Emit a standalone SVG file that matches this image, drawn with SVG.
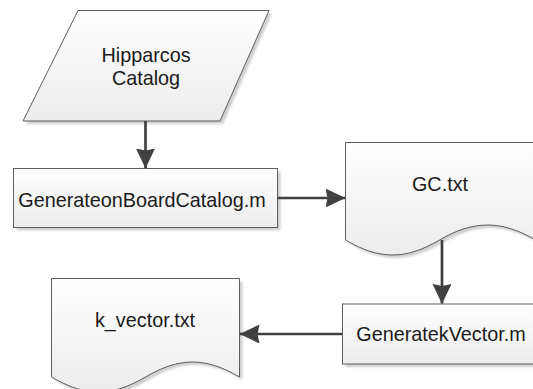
<svg xmlns="http://www.w3.org/2000/svg" width="533" height="389" viewBox="0 0 533 389">
  <defs>
    <linearGradient id="fillGrad" x1="0" y1="0" x2="0" y2="1">
      <stop offset="0" stop-color="#ffffff"/>
      <stop offset="1" stop-color="#ececec"/>
    </linearGradient>
    <filter id="soft" x="-10%" y="-10%" width="130%" height="130%">
      <feGaussianBlur stdDeviation="1"/>
    </filter>
    <marker id="arrow" viewBox="0 0 20 20" refX="19.5" refY="10" markerWidth="20" markerHeight="20" markerUnits="userSpaceOnUse" orient="auto">
      <path d="M0,0.5 L20,10 L0,19.5 L2,10 Z" fill="#404040"/>
    </marker>
  </defs>
  <style>
    .shape { fill: url(#fillGrad); stroke: #5e5e5e; stroke-width: 1; }
    .shadow { fill: #cfcfcf; stroke: none; filter: url(#soft); }
    .label { font-family: "Liberation Sans", Arial, sans-serif; font-size: 19.8px; fill: #1a1a1a; text-anchor: middle; }
    .conn { fill: none; stroke: #404040; stroke-width: 2.7; marker-end: url(#arrow); }
  </style>

  <rect width="533" height="389" fill="#ffffff"/>

  <!-- input data: parallelogram -->
  <g id="hipparcos">
    <polygon class="shadow" points="81,13.5 272,13.5 223,124 26,124"/>
    <polygon class="shape" points="78,10.5 269,10.5 220,121 23,121"/>
    <text class="label" x="146" y="62">Hipparcos</text>
    <text class="label" x="146" y="85">Catalog</text>
  </g>

  <!-- process: catalog generation -->
  <g id="generate-onboard">
    <rect class="shadow" x="16.5" y="171.5" width="264" height="59"/>
    <rect class="shape" x="13.5" y="168.5" width="264" height="59"/>
    <text class="label" x="142" y="207">GenerateonBoardCatalog.m</text>
  </g>

  <!-- document: GC.txt -->
  <g id="gc-txt">
    <path class="shadow" transform="translate(3,3)" d="M345.5,142.5 V240 C379.5,260 405.5,260 439.5,240 S501.5,220 535.5,240 V142.5 Z"/>
    <path class="shape" d="M345.5,142.5 V240 C379.5,260 405.5,260 439.5,240 S501.5,220 535.5,240 V142.5 Z"/>
    <text class="label" x="440" y="191">GC.txt</text>
  </g>

  <!-- process: k-vector generation -->
  <g id="generate-kvector">
    <rect class="shadow" x="345.5" y="307" width="200" height="60"/>
    <rect class="shape" x="342.5" y="304" width="200" height="60"/>
    <text class="label" x="441" y="341">GeneratekVector.m</text>
  </g>

  <!-- document: k_vector.txt -->
  <g id="k-vector-txt">
    <path class="shadow" transform="translate(3,3)" d="M51.5,278.5 V377 C85.5,397 111.5,397 145.5,377 S205.5,357 239.5,377 V278.5 Z"/>
    <path class="shape" d="M51.5,278.5 V377 C85.5,397 111.5,397 145.5,377 S205.5,357 239.5,377 V278.5 Z"/>
    <text class="label" x="145" y="327">k_vector.txt</text>
  </g>

  <!-- connectors -->
  <g id="connectors">
    <line class="conn" x1="145.5" y1="121" x2="145.5" y2="168"/>
    <line class="conn" x1="277.5" y1="198" x2="345" y2="198"/>
    <line class="conn" x1="442" y1="240" x2="442" y2="303.5"/>
    <line class="conn" x1="342" y1="334" x2="240" y2="334"/>
  </g>
</svg>
